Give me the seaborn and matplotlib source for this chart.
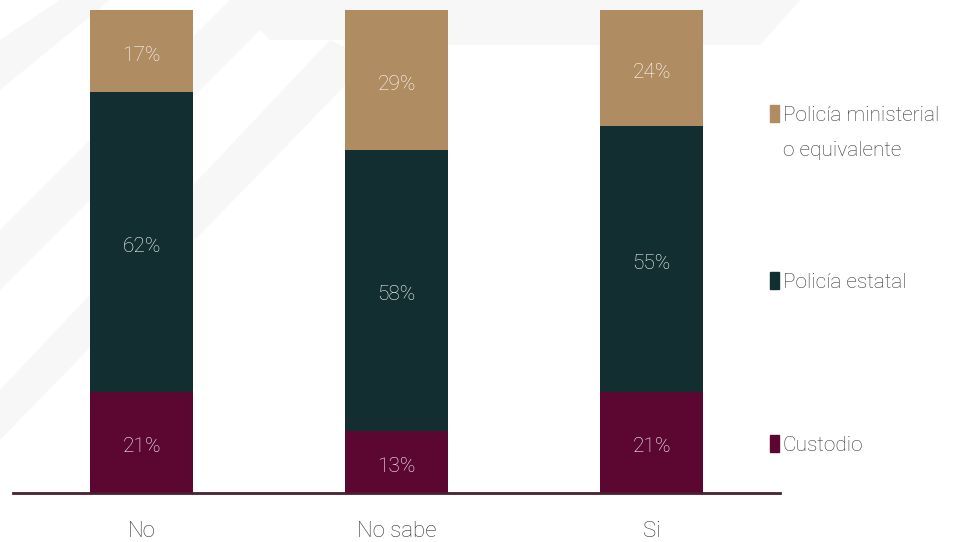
import numpy as np
import pandas as pd
import seaborn as sns
import matplotlib.pyplot as plt
from matplotlib.patches import Rectangle, Polygon

# categories and series values (percent)
categories = ["No", "No sabe", "Si"]
custodio = [21, 13, 21]
estatal = [62, 58, 55]
ministerial = [17, 29, 24]

series_names = ["Custodio", "Policía estatal", "Policía ministerial\no equivalente"]
colors = ["#5c0632", "#122e30", "#b08c62"]

sns.set_theme(style="white")
plt.rcParams['font.family'] = ['Roboto', 'DejaVu Sans']
plt.rcParams['font.weight'] = 'light'

fig = plt.figure(figsize=(9.59, 5.42), dpi=100)

# faint decorative background shapes (watermark)
bg = fig.add_axes([0, 0, 1, 1], zorder=0)
bg.set_xlim(0, 959)
bg.set_ylim(542, 0)
bg.axis("off")
for pts in [
    [(0, 40), (60, 0), (110, 0), (0, 90)],
    [(0, 230), (230, 0), (290, 0), (0, 290)],
    [(0, 390), (330, 40), (370, 60), (0, 440)],
    [(230, 0), (330, 0), (420, 40), (270, 40)],
    [(330, 0), (800, 0), (760, 45), (420, 45)],
]:
    bg.add_patch(Polygon(pts, closed=True, color="#f7f7f7", lw=0))

ax = fig.add_axes([0.0136, 0.0895, 0.7998, 0.892], zorder=1)
ax.patch.set_alpha(0)

bottom = np.zeros(len(categories))
for vals, col in zip([custodio, estatal, ministerial], colors):
    sns.barplot(x=categories, y=vals, bottom=bottom, color=col, width=0.404,
                ax=ax, linewidth=0, saturation=1)
    for i, v in enumerate(vals):
        ax.annotate(f"{v}%", (i, bottom[i] + v / 2), xytext=(0, -3),
                    textcoords="offset points", ha="center", va="center",
                    color="white", fontsize=15, fontweight="light")
    bottom = bottom + np.array(vals)

ax.set_xlim(-0.504, 2.504)
ax.set_ylim(0, 100)
ax.set_yticks([])
ax.set_ylabel("")
for s in ["top", "right", "left"]:
    ax.spines[s].set_visible(False)
ax.spines["bottom"].set_color("#4a1f30")
ax.spines["bottom"].set_linewidth(2)
ax.tick_params(axis="x", length=0, pad=20, labelsize=16, labelcolor="#333333")

# legend entries on the right (pixel y of first text line centre)
legend_y = [443, 280, 113]
for name, col, py in zip(series_names, colors, legend_y):
    fig.patches.append(Rectangle((770 / 959, 1 - (py + 9) / 542), 9 / 959, 17 / 542,
                                 transform=fig.transFigure, color=col, figure=fig))
    fig.text(783 / 959, 1 - (py + 8) / 542, name.split("\n")[0], ha="left", va="baseline",
             fontsize=15, color="#333333", fontweight="light")
    if "\n" in name:
        fig.text(783 / 959, 1 - (py + 43) / 542, name.split("\n")[1], ha="left",
                 va="baseline", fontsize=15, color="#333333", fontweight="light")

fig.savefig("out.png", dpi=100)
